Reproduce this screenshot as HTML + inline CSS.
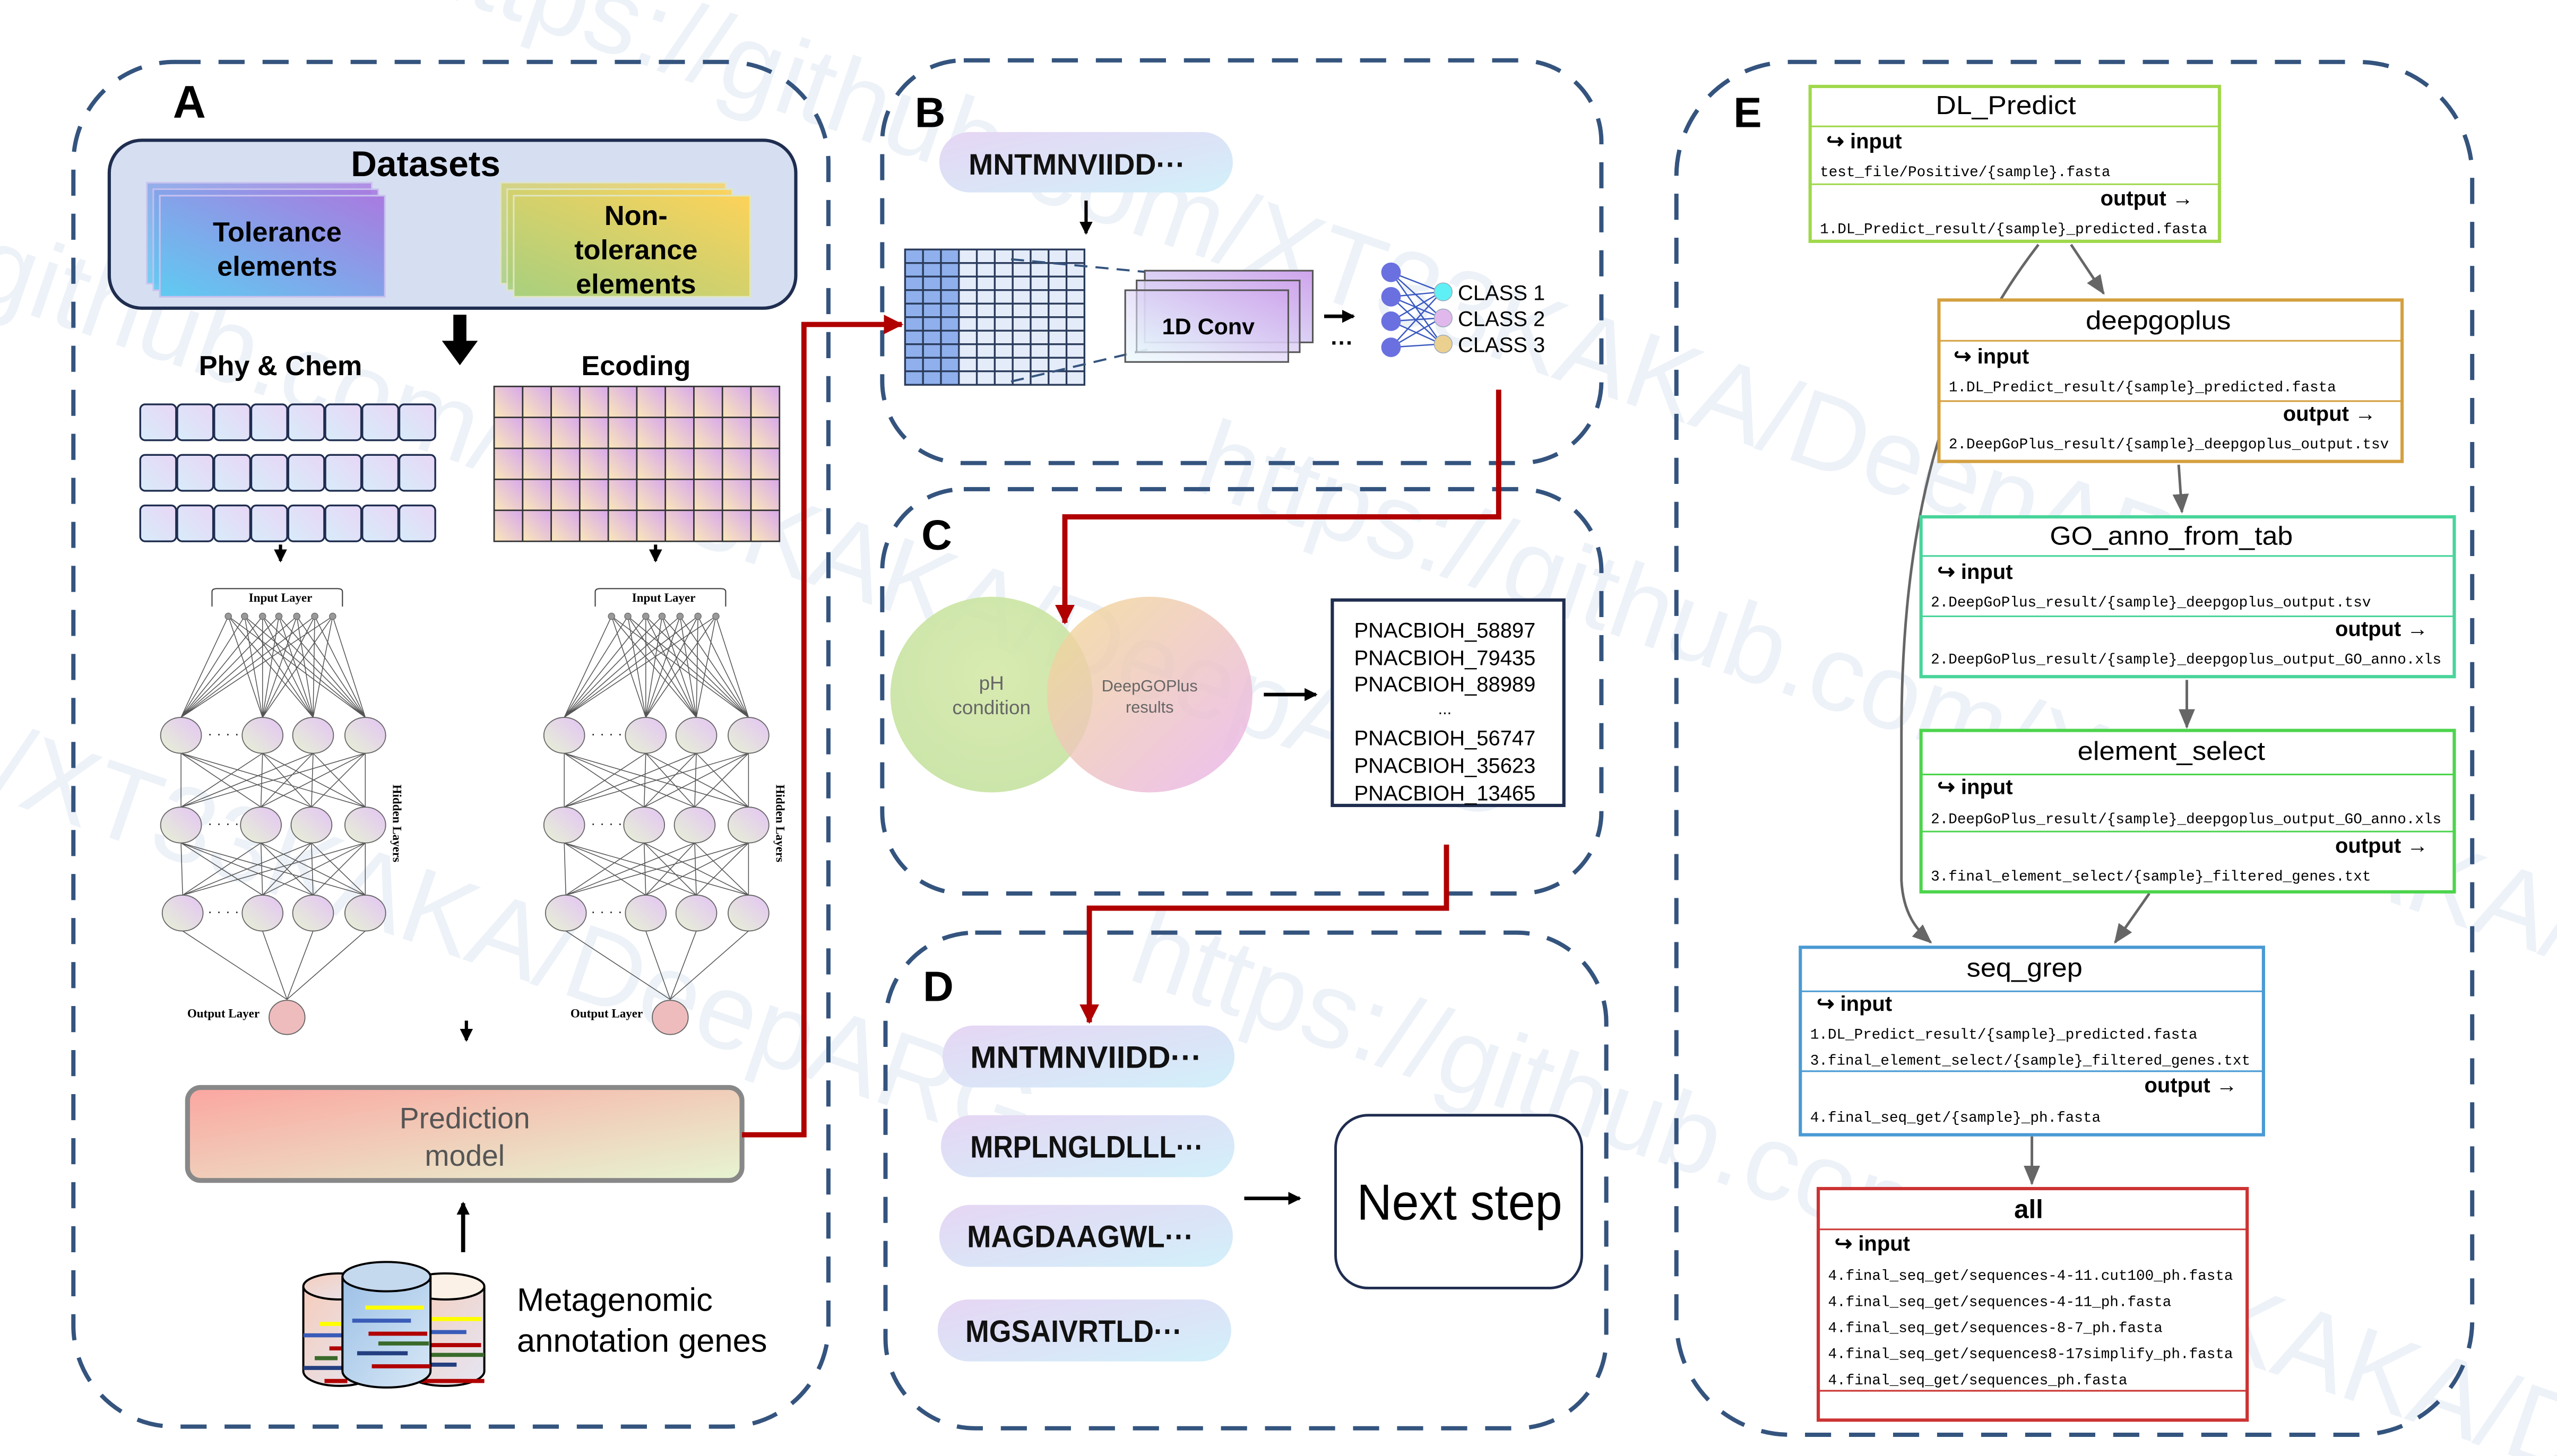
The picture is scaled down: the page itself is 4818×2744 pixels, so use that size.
<!DOCTYPE html>
<html><head><meta charset="utf-8">
<style>
html,body{margin:0;padding:0;background:#fff;width:4818px;height:2744px;overflow:hidden;}
svg{display:block;overflow:hidden;}
text{font-family:"Liberation Sans",sans-serif;}
.m{font-family:"Liberation Mono",monospace;font-size:9px;}
.s{font-family:"Liberation Serif",serif;font-weight:bold;}
</style></head>
<body>
<svg width="4818" height="2744" viewBox="0 0 1568 893" xmlns="http://www.w3.org/2000/svg">
<defs>
<clipPath id="clip"><rect width="1568" height="893"/></clipPath>
<linearGradient id="gTol" x1="0" y1="1" x2="1" y2="0"><stop offset="0" stop-color="#5fcbf2"/><stop offset="1" stop-color="#a97ae0"/></linearGradient>
<linearGradient id="gNon" x1="0" y1="1" x2="1" y2="0"><stop offset="0" stop-color="#a8d07e"/><stop offset="1" stop-color="#fdd25a"/></linearGradient>
<linearGradient id="gCell" x1="0" y1="1" x2="1" y2="0"><stop offset="0" stop-color="#d8ecfa"/><stop offset="1" stop-color="#e8d6f6"/></linearGradient>
<linearGradient id="gEnc" x1="0" y1="1" x2="1" y2="0"><stop offset="0" stop-color="#fbe8b8"/><stop offset="1" stop-color="#d8a8ec"/></linearGradient>
<pattern id="pEnc" x="303" y="237" width="17.5" height="19" patternUnits="userSpaceOnUse"><rect width="17.5" height="19" fill="url(#gEnc)"/></pattern>
<linearGradient id="gNode" x1="0" y1="1" x2="1" y2="0"><stop offset="0" stop-color="#e6f2d4"/><stop offset="1" stop-color="#e4c4f4"/></linearGradient>
<linearGradient id="gPred" x1="0" y1="0" x2="1" y2="1"><stop offset="0" stop-color="#fba6a0"/><stop offset="1" stop-color="#e6f5d2"/></linearGradient>
<linearGradient id="gPill" x1="0" y1="0" x2="1" y2="1"><stop offset="0" stop-color="#e6d6f4"/><stop offset="1" stop-color="#d2f0fa"/></linearGradient>
<linearGradient id="gConv" x1="0" y1="1" x2="1" y2="0"><stop offset="0" stop-color="#e6fafc"/><stop offset="1" stop-color="#cfa4ec"/></linearGradient>
<radialGradient id="gGreen" cx="0.5" cy="0.4" r="0.6"><stop offset="0" stop-color="#d4e8a8"/><stop offset="1" stop-color="#c6e2a0"/></radialGradient>
<linearGradient id="gPink" x1="0" y1="0" x2="1" y2="1"><stop offset="0" stop-color="#f2d890" stop-opacity="0.8"/><stop offset="1" stop-color="#eab4f0" stop-opacity="0.85"/></linearGradient>
<linearGradient id="gCylB" x1="0" y1="0" x2="1" y2="1"><stop offset="0" stop-color="#9cc0e6"/><stop offset="1" stop-color="#d8e8f6"/></linearGradient>
<linearGradient id="gCylP" x1="0" y1="0" x2="1" y2="1"><stop offset="0" stop-color="#f6cdbc"/><stop offset="1" stop-color="#e4e6f4"/></linearGradient>
<marker id="ah" markerWidth="8" markerHeight="8" refX="7" refY="4" orient="auto" markerUnits="userSpaceOnUse"><path d="M0,0 L8,4 L0,8 z" fill="#000"/></marker>
<marker id="ahR" markerWidth="12" markerHeight="12" refX="11" refY="6" orient="auto" markerUnits="userSpaceOnUse"><path d="M0,0 L12,6 L0,12 z" fill="#b00000"/></marker>
<marker id="ahG" markerWidth="12" markerHeight="12" refX="11" refY="6" orient="auto" markerUnits="userSpaceOnUse"><path d="M0,1 L12,6 L0,11 z" fill="#666"/></marker>
<g id="net">
  <path d="M130,372 v-9 q0,-2 3,-2 h74 q3,0 3,2 v9" fill="none" stroke="#444" stroke-width="0.7"/>
  <text x="172" y="369" class="s" font-size="7.5" text-anchor="middle">Input Layer</text>
  <g stroke="#555" stroke-width="0.5" fill="none">
  <path d="M140,378L111,440M140,378L161,440M140,378L192,440M140,378L224,440 M150,378L111,440M150,378L161,440M150,378L192,440M150,378L224,440 M161,378L111,440M161,378L161,440M161,378L192,440M161,378L224,440 M171,378L111,440M171,378L161,440M171,378L192,440M171,378L224,440 M182,378L111,440M182,378L161,440M182,378L192,440M182,378L224,440 M193,378L111,440M193,378L161,440M193,378L192,440M193,378L224,440 M204,378L111,440M204,378L161,440M204,378L192,440M204,378L224,440"/>
  <path d="M111,462L111,495M111,462L160,495M111,462L191,495M111,462L224,495 M161,462L111,495M161,462L160,495M161,462L191,495M161,462L224,495 M192,462L111,495M192,462L160,495M192,462L191,495M192,462L224,495 M224,462L111,495M224,462L160,495M224,462L191,495M224,462L224,495"/>
  <path d="M111,517L112,549M111,517L161,549M111,517L192,549M111,517L224,549 M160,517L112,549M160,517L161,549M160,517L192,549M160,517L224,549 M191,517L112,549M191,517L161,549M191,517L192,549M191,517L224,549 M224,517L112,549M224,517L161,549M224,517L192,549M224,517L224,549"/>
  <path d="M112,571L176,613M161,571L176,613M192,571L176,613M224,571L176,613"/>
  </g>
  <g fill="#999" stroke="#666" stroke-width="0.4">
  <circle cx="140" cy="378" r="2"/><circle cx="150" cy="378" r="2"/><circle cx="161" cy="378" r="2"/><circle cx="171" cy="378" r="2"/><circle cx="182" cy="378" r="2"/><circle cx="193" cy="378" r="2"/><circle cx="204" cy="378" r="2"/>
  </g>
  <g fill="url(#gNode)" stroke="#666" stroke-width="0.6">
  <ellipse cx="111" cy="451" rx="12.5" ry="11"/><ellipse cx="161" cy="451" rx="12.5" ry="11"/><ellipse cx="192" cy="451" rx="12.5" ry="11"/><ellipse cx="224" cy="451" rx="12.5" ry="11"/>
  <ellipse cx="111" cy="506" rx="12.5" ry="11"/><ellipse cx="160" cy="506" rx="12.5" ry="11"/><ellipse cx="191" cy="506" rx="12.5" ry="11"/><ellipse cx="224" cy="506" rx="12.5" ry="11"/>
  <ellipse cx="112" cy="560" rx="12.5" ry="11"/><ellipse cx="161" cy="560" rx="12.5" ry="11"/><ellipse cx="192" cy="560" rx="12.5" ry="11"/><ellipse cx="224" cy="560" rx="12.5" ry="11"/>
  </g>
  <text x="137" y="453" font-size="9" text-anchor="middle" fill="#333">· · · ·</text>
  <text x="137" y="508" font-size="9" text-anchor="middle" fill="#333">· · · ·</text>
  <text x="137" y="562" font-size="9" text-anchor="middle" fill="#333">· · · ·</text>
  <ellipse cx="176" cy="624" rx="11" ry="10.5" fill="#efbcbe" stroke="#666" stroke-width="0.6"/>
  <text x="137" y="624" class="s" font-size="7.5" text-anchor="middle">Output Layer</text>
  <text transform="translate(241,505) rotate(90)" class="s" font-size="7.5" text-anchor="middle">Hidden Layers</text>
</g>
</defs>
<g clip-path="url(#clip)">
<rect width="1568" height="893" fill="#fff"/>
<g fill="#dde6f2" opacity="0.5" font-size="66" font-family="Liberation Sans, sans-serif">
<text transform="translate(250,-10) rotate(19)">https://github.com/XT33KAKA/DeepARG</text>
<text transform="translate(-20,180) rotate(19)">github.com/XT33KAKA/DeepARG</text>
<text transform="translate(-60,470) rotate(19)">m/XT33KAKA/DeepARG</text>
<text transform="translate(730,300) rotate(19)">https://github.com/XT33KAKA/Dee</text>
<text transform="translate(690,600) rotate(19)">https://github.com/XT33KAKA/Dee</text>
</g>

<g fill="none" stroke="#34547e" stroke-width="2.6" stroke-dasharray="16,11">
<rect x="45" y="38" width="463" height="837" rx="62"/>
<rect x="541" y="37" width="441" height="247" rx="50"/>
<rect x="541" y="300" width="441" height="248" rx="50"/>
<rect x="543" y="572" width="442" height="304" rx="55"/>
<rect x="1028" y="38" width="488" height="842" rx="70"/>
</g>

<!-- Panel A -->
<text x="106" y="72" font-size="28" font-weight="bold">A</text>
<rect x="67" y="86" width="421" height="103" rx="20" fill="#d6dff2" stroke="#1f2d4f" stroke-width="2"/>
<text x="261" y="108" font-size="22" font-weight="bold" text-anchor="middle">Datasets</text>
<g stroke="#c8c0ee" stroke-width="1">
<rect x="90" y="112" width="138" height="62" fill="url(#gTol)" opacity="0.8"/>
<rect x="94" y="116" width="138" height="62" fill="url(#gTol)" opacity="0.9"/>
<rect x="98" y="120" width="138" height="62" fill="url(#gTol)"/>
</g>
<text x="170" y="148" font-size="17" font-weight="bold" text-anchor="middle">Tolerance</text>
<text x="170" y="169" font-size="17" font-weight="bold" text-anchor="middle">elements</text>
<g stroke="#e0e6c0" stroke-width="1">
<rect x="307" y="112" width="138" height="62" fill="url(#gNon)" opacity="0.8"/>
<rect x="311" y="116" width="138" height="62" fill="url(#gNon)" opacity="0.9"/>
<rect x="315" y="120" width="145" height="62" fill="url(#gNon)"/>
</g>
<text x="390" y="138" font-size="17" font-weight="bold" text-anchor="middle">Non-</text>
<text x="390" y="159" font-size="17" font-weight="bold" text-anchor="middle">tolerance</text>
<text x="390" y="180" font-size="17" font-weight="bold" text-anchor="middle">elements</text>
<path d="M278,193 h8 v16 h7 l-11,15 l-11,-15 h7 z" fill="#000"/>
<text x="172" y="230" font-size="17" font-weight="bold" text-anchor="middle">Phy &amp; Chem</text>
<text x="390" y="230" font-size="17" font-weight="bold" text-anchor="middle">Ecoding</text>
<g fill="url(#gCell)" stroke="#1f2d4f" stroke-width="1.1">
<rect x="86" y="248" width="22" height="22" rx="3"/><rect x="108.7" y="248" width="22" height="22" rx="3"/><rect x="131.4" y="248" width="22" height="22" rx="3"/><rect x="154.1" y="248" width="22" height="22" rx="3"/><rect x="176.8" y="248" width="22" height="22" rx="3"/><rect x="199.5" y="248" width="22" height="22" rx="3"/><rect x="222.2" y="248" width="22" height="22" rx="3"/><rect x="244.9" y="248" width="22" height="22" rx="3"/>
<rect x="86" y="279" width="22" height="22" rx="3"/><rect x="108.7" y="279" width="22" height="22" rx="3"/><rect x="131.4" y="279" width="22" height="22" rx="3"/><rect x="154.1" y="279" width="22" height="22" rx="3"/><rect x="176.8" y="279" width="22" height="22" rx="3"/><rect x="199.5" y="279" width="22" height="22" rx="3"/><rect x="222.2" y="279" width="22" height="22" rx="3"/><rect x="244.9" y="279" width="22" height="22" rx="3"/>
<rect x="86" y="310" width="22" height="22" rx="3"/><rect x="108.7" y="310" width="22" height="22" rx="3"/><rect x="131.4" y="310" width="22" height="22" rx="3"/><rect x="154.1" y="310" width="22" height="22" rx="3"/><rect x="176.8" y="310" width="22" height="22" rx="3"/><rect x="199.5" y="310" width="22" height="22" rx="3"/><rect x="222.2" y="310" width="22" height="22" rx="3"/><rect x="244.9" y="310" width="22" height="22" rx="3"/>
</g>
<rect x="303" y="237" width="175" height="95" fill="url(#pEnc)"/>
<g stroke="#333" stroke-width="0.9" fill="none">
<rect x="303" y="237" width="175" height="95"/>
<path d="M320.5,237v95M338,237v95M355.5,237v95M373,237v95M390.5,237v95M408,237v95M425.5,237v95M443,237v95M460.5,237v95 M303,256h175M303,275h175M303,294h175M303,313h175"/>
</g>
<path d="M172,334 v10" stroke="#000" stroke-width="2" marker-end="url(#ah)"/>
<path d="M402,334 v10" stroke="#000" stroke-width="2" marker-end="url(#ah)"/>
<use href="#net"/>
<use href="#net" transform="translate(235,0)"/>
<path d="M286,626 v12" stroke="#000" stroke-width="2" marker-end="url(#ah)"/>
<rect x="115" y="667" width="340" height="57" rx="8" fill="url(#gPred)" stroke="#888" stroke-width="3"/>
<text x="285" y="692" font-size="18" fill="#555" text-anchor="middle">Prediction</text>
<text x="285" y="715" font-size="18" fill="#555" text-anchor="middle">model</text>
<path d="M284,768 v-30" stroke="#000" stroke-width="2.5" marker-end="url(#ah)"/>
<g stroke="#000" stroke-width="1.3">
<path d="M186,789 v52 a22,9 0 0 0 44,0 v-52" fill="url(#gCylP)"/>
<ellipse cx="208" cy="789" rx="22" ry="8" fill="url(#gCylP)"/>
<path d="M249,789 v52 a24,9 0 0 0 48,0 v-52" fill="url(#gCylP)"/>
<ellipse cx="273" cy="789" rx="24" ry="8" fill="#fbf1e6"/>
</g>
<g stroke-width="2.5">
<path d="M196,812h14" stroke="#ff0"/><path d="M186,819h24" stroke="#3a5cb8"/><path d="M202,827h10" stroke="#b00000"/><path d="M193,833h14" stroke="#3a6a2a"/><path d="M186,839h24" stroke="#243f80"/><path d="M199,847h14" stroke="#b00000"/>
<path d="M258,809h37" stroke="#ff0"/><path d="M258,817h28" stroke="#3a5cb8"/><path d="M258,825h37" stroke="#b00000"/><path d="M258,831h39" stroke="#3a6a2a"/><path d="M258,837h22" stroke="#243f80"/><path d="M258,847h39" stroke="#b00000"/>
</g>
<g stroke="#000" stroke-width="1.3">
<path d="M210,783 v58 a27,10 0 0 0 54,0 v-58" fill="url(#gCylB)"/>
<ellipse cx="237" cy="783" rx="27" ry="9" fill="#c4d8ee"/>
</g>
<g stroke-width="2.5">
<path d="M224,802h36" stroke="#ff0"/><path d="M216,810h36" stroke="#3a5cb8"/><path d="M226,818h36" stroke="#b00000"/><path d="M232,824h31" stroke="#3a6a2a"/><path d="M219,830h31" stroke="#243f80"/><path d="M228,838h36" stroke="#b00000"/>
</g>
<text x="317" y="804" font-size="20">Metagenomic</text>
<text x="317" y="829" font-size="20">annotation genes</text>

<path d="M455,696 H493 V199 H553" fill="none" stroke="#b00000" stroke-width="3.2" marker-end="url(#ahR)"/>
<path d="M919,239 V317 H653 V382" fill="none" stroke="#b00000" stroke-width="3.2" marker-end="url(#ahR)"/>
<path d="M887,518 V557 H668 V627" fill="none" stroke="#b00000" stroke-width="3.2" marker-end="url(#ahR)"/>

<!-- Panel B -->
<text x="561" y="78" font-size="26" font-weight="bold">B</text>
<rect x="576" y="81" width="180" height="37" rx="18.5" fill="url(#gPill)"/>
<text x="594" y="107" font-size="18" font-weight="bold" fill="#111">MNTMNVIIDD···</text>
<path d="M666,123 v20" stroke="#000" stroke-width="2" marker-end="url(#ah)"/>
<rect x="555" y="153" width="33" height="83" fill="#8fb0ec"/>
<rect x="588" y="153" width="77" height="83" fill="#e4ecfa"/>
<g stroke="#2a3a5a" stroke-width="1.1" fill="none">
<rect x="555" y="153" width="110" height="83"/>
<path d="M566,153v83M577,153v83M588,153v83M599,153v83M610,153v83M621,153v83M632,153v83M643,153v83M654,153v83 M555,161.3h110M555,169.6h110M555,177.9h110M555,186.2h110M555,194.5h110M555,202.8h110M555,211.1h110M555,219.4h110M555,227.7h110"/>
</g>
<path d="M620,159 L705,167 M620,234 L705,214" stroke="#34547e" stroke-width="1.3" stroke-dasharray="8,5"/>
<g stroke="#555" stroke-width="1">
<rect x="702" y="166" width="103" height="44" fill="url(#gConv)"/>
<rect x="697" y="172" width="100" height="44" fill="url(#gConv)" fill-opacity="0.8"/>
<rect x="690" y="178" width="100" height="44" fill="url(#gConv)" fill-opacity="0.6"/>
</g>
<text x="741" y="205" font-size="14" font-weight="bold" text-anchor="middle">1D Conv</text>
<path d="M812,194 h18" stroke="#000" stroke-width="2.2" marker-end="url(#ah)"/>
<text x="816" y="215" font-size="14" font-weight="bold">···</text>
<g stroke="#3858c0" stroke-width="0.8">
<path d="M853,167L884,179M853,167L884,195M853,167L884,211 M853,182L884,179M853,182L884,195M853,182L884,211 M853,197L884,179M853,197L884,195M853,197L884,211 M853,213L884,179M853,213L884,195M853,213L884,211"/>
</g>
<g fill="#6a70e0"><circle cx="853" cy="167" r="6"/><circle cx="853" cy="182" r="6"/><circle cx="853" cy="197" r="6"/><circle cx="853" cy="213" r="6"/></g>
<circle cx="885" cy="179" r="5.5" fill="#5ef0f4" stroke="#9ab" stroke-width="0.5"/>
<circle cx="885" cy="195" r="5.5" fill="#e0b8ec" stroke="#9ab" stroke-width="0.5"/>
<circle cx="885" cy="211" r="5.5" fill="#ecd090" stroke="#9ab" stroke-width="0.5"/>
<text x="894" y="184" font-size="13">CLASS 1</text>
<text x="894" y="200" font-size="13">CLASS 2</text>
<text x="894" y="216" font-size="13">CLASS 3</text>

<!-- Panel C -->
<text x="565" y="337" font-size="26" font-weight="bold">C</text>
<ellipse cx="608" cy="426" rx="62" ry="60" fill="url(#gGreen)" opacity="0.9"/>
<ellipse cx="705" cy="426" rx="63" ry="60" fill="url(#gPink)"/>
<text x="608" y="423" font-size="12" fill="#666" text-anchor="middle">pH</text>
<text x="608" y="438" font-size="12" fill="#666" text-anchor="middle">condition</text>
<text x="705" y="424" font-size="10" fill="#666" text-anchor="middle">DeepGOPlus</text>
<text x="705" y="437" font-size="10" fill="#666" text-anchor="middle">results</text>
<path d="M775,426 h32" stroke="#000" stroke-width="2.2" marker-end="url(#ah)"/>
<rect x="817" y="368" width="142" height="126" fill="#fff" stroke="#1f2d4f" stroke-width="2"/>
<g font-size="13" text-anchor="middle">
<text x="886" y="391">PNACBIOH_58897</text>
<text x="886" y="408">PNACBIOH_79435</text>
<text x="886" y="424">PNACBIOH_88989</text>
<text x="886" y="438" font-size="10">...</text>
<text x="886" y="457">PNACBIOH_56747</text>
<text x="886" y="474">PNACBIOH_35623</text>
<text x="886" y="491">PNACBIOH_13465</text>
</g>

<!-- Panel D -->
<text x="566" y="614" font-size="26" font-weight="bold">D</text>
<rect x="578" y="629" width="179" height="38" rx="19" fill="url(#gPill)"/>
<rect x="577" y="684" width="180" height="38" rx="19" fill="url(#gPill)"/>
<rect x="576" y="739" width="180" height="38" rx="19" fill="url(#gPill)"/>
<rect x="575" y="797" width="180" height="38" rx="19" fill="url(#gPill)"/>
<g font-size="19" font-weight="bold" fill="#111">
<text x="595" y="655" textLength="142" lengthAdjust="spacingAndGlyphs">MNTMNVIIDD···</text>
<text x="595" y="710" textLength="143" lengthAdjust="spacingAndGlyphs">MRPLNGLDLLL···</text>
<text x="593" y="765" textLength="139" lengthAdjust="spacingAndGlyphs">MAGDAAGWL···</text>
<text x="592" y="823" textLength="133" lengthAdjust="spacingAndGlyphs">MGSAIVRTLD···</text>
</g>
<path d="M763,735 h34" stroke="#000" stroke-width="2.2" marker-end="url(#ah)"/>
<rect x="819" y="684" width="151" height="106" rx="20" fill="#fff" stroke="#1f2d4f" stroke-width="1.6"/>
<text x="832" y="748" font-size="31" textLength="126" lengthAdjust="spacingAndGlyphs">Next step</text>

<!-- Panel E -->
<text x="1063" y="78" font-size="26" font-weight="bold">E</text>
<g fill="none" stroke="#666" stroke-width="1.6">
<path d="M1270,150 L1290,180" marker-end="url(#ahG)"/>
<path d="M1250,150 C1200,215 1166,300 1166,450 L1166,540 C1167,560 1175,570 1184,578" marker-end="url(#ahG)"/>
<path d="M1336,285 L1338,314" marker-end="url(#ahG)"/>
<path d="M1341,417 L1341,446" marker-end="url(#ahG)"/>
<path d="M1318,548 L1297,578" marker-end="url(#ahG)"/>
<path d="M1246,697 L1246,726" marker-end="url(#ahG)"/>
</g>

<g>
<rect x="1110" y="53" width="251" height="95" fill="#fff" stroke="#9fd84a" stroke-width="2"/>
<path d="M1110,77.5h251M1110,113h251" stroke="#9fd84a" stroke-width="1"/>
<text x="1187" y="70" font-size="16" textLength="86" lengthAdjust="spacingAndGlyphs">DL_Predict</text>
<text x="1120" y="91" font-size="13" font-weight="bold">↪ input</text>
<text x="1116" y="108" class="m">test_file/Positive/{sample}.fasta</text>
<text x="1345" y="126" font-size="13" font-weight="bold" text-anchor="end">output →</text>
<text x="1116" y="143" class="m">1.DL_Predict_result/{sample}_predicted.fasta</text>
</g>
<g>
<rect x="1189" y="184" width="284" height="99" fill="#fff" stroke="#d4a040" stroke-width="2"/>
<path d="M1189,209h284M1189,246h284" stroke="#d4a040" stroke-width="1"/>
<text x="1279" y="202" font-size="16" textLength="89" lengthAdjust="spacingAndGlyphs">deepgoplus</text>
<text x="1198" y="223" font-size="13" font-weight="bold">↪ input</text>
<text x="1195" y="240" class="m">1.DL_Predict_result/{sample}_predicted.fasta</text>
<text x="1457" y="258" font-size="13" font-weight="bold" text-anchor="end">output →</text>
<text x="1195" y="275" class="m">2.DeepGoPlus_result/{sample}_deepgoplus_output.tsv</text>
</g>
<g>
<rect x="1178" y="317" width="327" height="98" fill="#fff" stroke="#48d49a" stroke-width="2"/>
<path d="M1178,341h327M1178,378h327" stroke="#48d49a" stroke-width="1"/>
<text x="1257" y="334" font-size="16" textLength="149" lengthAdjust="spacingAndGlyphs">GO_anno_from_tab</text>
<text x="1188" y="355" font-size="13" font-weight="bold">↪ input</text>
<text x="1184" y="372" class="m">2.DeepGoPlus_result/{sample}_deepgoplus_output.tsv</text>
<text x="1489" y="390" font-size="13" font-weight="bold" text-anchor="end">output →</text>
<text x="1184" y="407" class="m">2.DeepGoPlus_result/{sample}_deepgoplus_output_GO_anno.xls</text>
</g>
<g>
<rect x="1178" y="448" width="327" height="99" fill="#fff" stroke="#4cd44c" stroke-width="2"/>
<path d="M1178,475h327M1178,510h327" stroke="#4cd44c" stroke-width="1"/>
<text x="1274" y="466" font-size="16" textLength="115" lengthAdjust="spacingAndGlyphs">element_select</text>
<text x="1188" y="487" font-size="13" font-weight="bold">↪ input</text>
<text x="1184" y="505" class="m">2.DeepGoPlus_result/{sample}_deepgoplus_output_GO_anno.xls</text>
<text x="1489" y="523" font-size="13" font-weight="bold" text-anchor="end">output →</text>
<text x="1184" y="540" class="m">3.final_element_select/{sample}_filtered_genes.txt</text>
</g>
<g>
<rect x="1104" y="581" width="284" height="115" fill="#fff" stroke="#4a9ad4" stroke-width="2"/>
<path d="M1104,608h284M1104,657h284" stroke="#4a9ad4" stroke-width="1"/>
<text x="1206" y="599" font-size="16" textLength="71" lengthAdjust="spacingAndGlyphs">seq_grep</text>
<text x="1114" y="620" font-size="13" font-weight="bold">↪ input</text>
<text x="1110" y="637" class="m">1.DL_Predict_result/{sample}_predicted.fasta</text>
<text x="1110" y="653" class="m">3.final_element_select/{sample}_filtered_genes.txt</text>
<text x="1372" y="670" font-size="13" font-weight="bold" text-anchor="end">output →</text>
<text x="1110" y="688" class="m">4.final_seq_get/{sample}_ph.fasta</text>
</g>
<g>
<rect x="1115" y="729" width="263" height="142" fill="#fff" stroke="#cc3333" stroke-width="2"/>
<path d="M1115,754h263M1115,853h263" stroke="#cc3333" stroke-width="1"/>
<text x="1244" y="747" font-size="16" font-weight="bold" text-anchor="middle">all</text>
<text x="1125" y="767" font-size="13" font-weight="bold">↪ input</text>
<text x="1121" y="785" class="m">4.final_seq_get/sequences-4-11.cut100_ph.fasta</text>
<text x="1121" y="801" class="m">4.final_seq_get/sequences-4-11_ph.fasta</text>
<text x="1121" y="817" class="m">4.final_seq_get/sequences-8-7_ph.fasta</text>
<text x="1121" y="833" class="m">4.final_seq_get/sequences8-17simplify_ph.fasta</text>
<text x="1121" y="849" class="m">4.final_seq_get/sequences_ph.fasta</text>
</g>
</g>
</svg>
</body></html>
